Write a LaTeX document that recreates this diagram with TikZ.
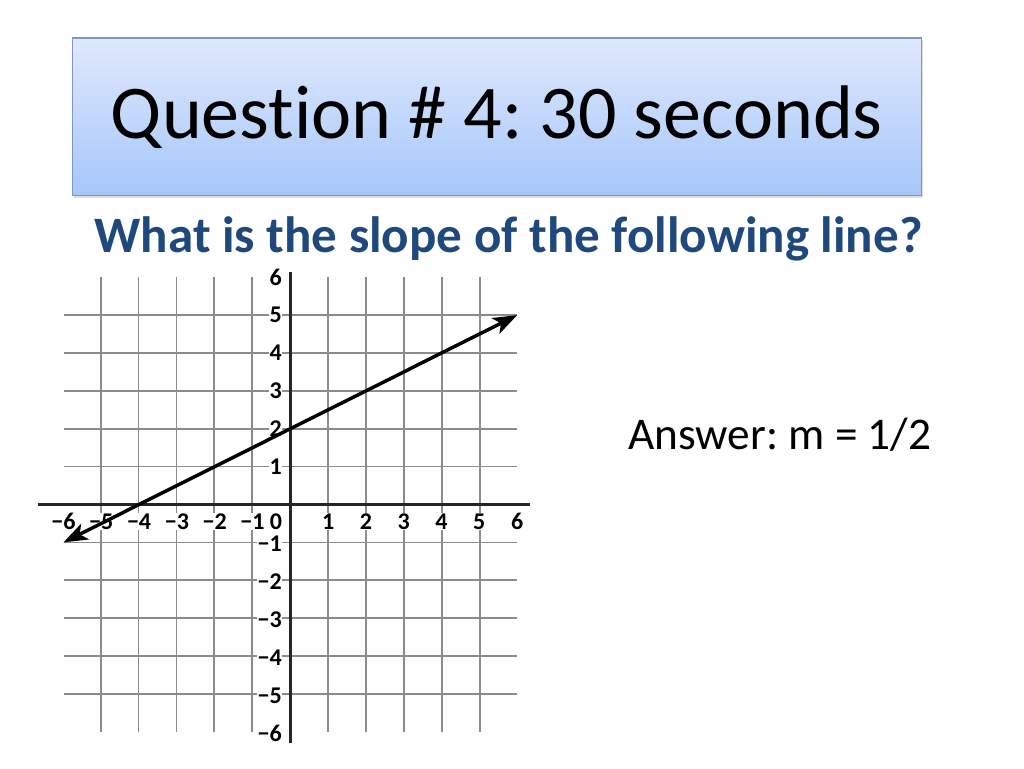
\documentclass[tikz,border=0pt]{standalone}
\usepackage{fontspec}
\setmainfont{Carlito}[Ligatures=NoCommon]
\frenchspacing
\usetikzlibrary{arrows.meta, positioning, shadows}
\usepackage{xcolor}
\definecolor{TitleTop}{RGB}{223,233,253}
\definecolor{TitleBottom}{RGB}{166,198,250}
\definecolor{TitleEdge}{RGB}{128,150,192}
\definecolor{QuestionBlue}{RGB}{31,73,125}

\begin{document}
\begin{tikzpicture}[
          x=0.75pt, y=0.75pt,
          titlebox/.style={rectangle, draw=TitleEdge, line width=0.8pt, top color=TitleTop, bottom color=TitleBottom, minimum width=636.5pt, minimum height=118.3pt, font=\fontsize{57}{62}\selectfont, drop shadow={shadow xshift=1.2pt, shadow yshift=-1.5pt, opacity=0.25}},
          question/.style={inner sep=0pt, text=QuestionBlue, font=\fontsize{38.3}{42}\selectfont\bfseries},
          answer/.style={inner sep=0pt, font=\fontsize{34}{38}\selectfont},
          gridline/.style={black!45, line width=1.4pt},
          axisline/.style={black!85, line width=1.8pt},
          slopeline/.style={{Stealth[length=18pt, width=13pt, inset=4.5pt]}-{Stealth[length=18pt, width=13pt, inset=4.5pt]}, black, line width=2.6pt},
          xtick/.style={fill=white, inner sep=0.5pt, anchor=base, font=\fontsize{18}{19}\selectfont\bfseries},
          ytick/.style={xtick, anchor=east}
        ]
          \useasboundingbox (0,0) rectangle (1024,768);

          \node (title) [titlebox] at (496.8,651.1) {Question \# 4: 30 seconds};
          \node (question) [question, anchor=base] at (508.5,515.3) {What is the slope of the following line?};
          \node (answer) [answer, anchor=base west] at (628,318.7) {Answer: m = 1/2};

          % coordinate grid
          \begin{scope}[shift={(290.3,263.5)}, x=28.35pt, y=28.4pt]
            \draw [gridline] (-6,-6) grid (6,6);

            \foreach \k in {1,...,6} {
              \node (xp\k) [xtick] at (\k,-0.65) {\k};
              \node (xn\k) [xtick] at (-\k,-0.65) {−\k};
              \node (yp\k) [ytick] at (-0.2,\k) {\k};
              \node (yn\k) [ytick] at (-0.2,-\k-0.04) {−\k};
            }
            \node (xzero) [xtick] at (-0.38,-0.65) {0};

            \coordinate (xleft) at (-6.67,0);
            \coordinate (xright) at (6.34,0);
            \coordinate (ytop) at (0,6.15);
            \coordinate (ybottom) at (0,-6.3);
            \draw [axisline] (xleft) -- (xright);
            \draw [axisline] (ybottom) -- (ytop);

            \coordinate (lineStart) at (-6,-1);
            \coordinate (lineEnd) at (6,5);
            \draw [slopeline] (lineStart) -- (lineEnd);
          \end{scope}
        \end{tikzpicture}
\end{document}
